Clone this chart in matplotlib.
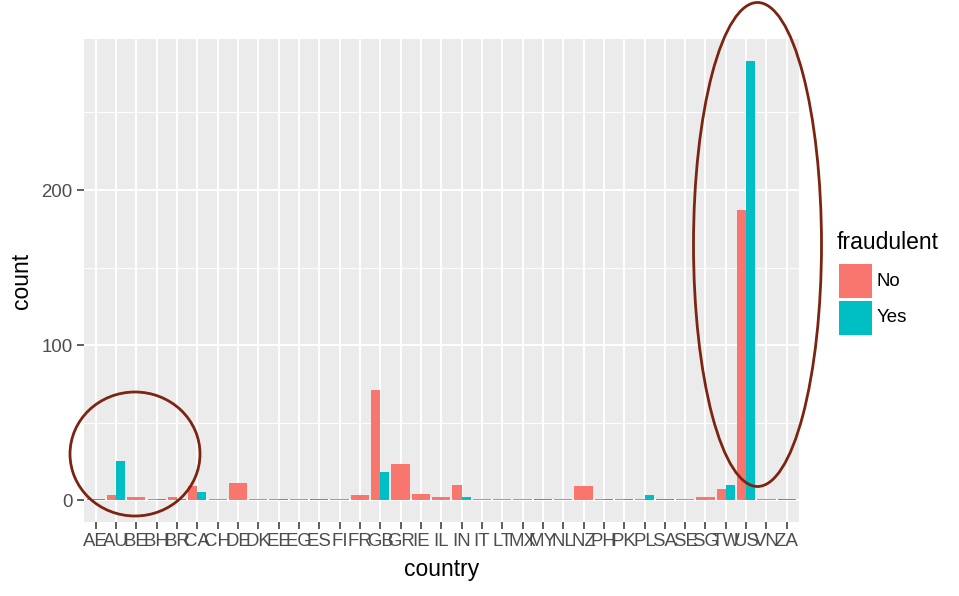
import numpy as np
import matplotlib
matplotlib.use('Agg')
import matplotlib.pyplot as plt
from matplotlib.patches import Rectangle, Ellipse

plt.rcParams['font.family'] = ['Liberation Sans', 'DejaVu Sans']

# counts per country, split by the "fraudulent" flag
countries = ['AE', 'AU', 'BE', 'BH', 'BR', 'CA', 'CH', 'DE', 'DK', 'EE', 'EG', 'ES',
             'FI', 'FR', 'GB', 'GR', 'IE', 'IL', 'IN', 'IT', 'LT', 'MX', 'MY', 'NL',
             'NZ', 'PH', 'PK', 'PL', 'SA', 'SE', 'SG', 'TW', 'US', 'VN', 'ZA']
count_no = [0, 3, 2, 1, 2, 9, 1, 11, 1, 1, 1, 0, 1, 3, 71, 23, 4, 2, 10, 1, 1, 1, 0, 1,
            9, 1, 1, 1, 0, 1, 2, 7, 187, 1, 0]
count_yes = [1, 25, 0, 1, 1, 5, 0, 0, 0, 1, 0, 1, 0, 0, 18, 0, 0, 0, 2, 0, 0, 0, 1, 0,
             0, 1, 1, 3, 1, 0, 0, 10, 283, 0, 1]
groups = ['No', 'Yes']
colors = ['#F8766D', '#00BFC4']

W, H = 959, 596
fig = plt.figure(figsize=(W / 100, H / 100), dpi=100)
ax = fig.add_axes([83.5 / W, 1 - 522 / H, (799 - 83.5) / W, (522 - 39.4) / H])
ax.set_facecolor('#EBEBEB')

# ggplot-style dodged bars (full width when only one group present)
x = np.arange(len(countries))
for i in x:
    vals = [count_no[i], count_yes[i]]
    present = [k for k in range(2) if vals[k] > 0]
    if len(present) == 1:
        k = present[0]
        ax.bar(i, vals[k], width=0.9, color=colors[k], zorder=3)
    else:
        ax.bar(i - 0.225, vals[0], width=0.45, color=colors[0], zorder=3)
        ax.bar(i + 0.225, vals[1], width=0.45, color=colors[1], zorder=3)

ymax = max(max(count_no), max(count_yes))
ax.set_ylim(-0.05 * ymax, 1.05 * ymax)
ax.set_xlim(-0.6, len(countries) - 0.4)

ax.set_yticks([0, 100, 200])
ax.set_yticks([50, 150, 250], minor=True)
ax.set_xticks(x)
ax.set_xticklabels(countries)
ax.grid(which='major', color='white', linewidth=1.4, zorder=0)
ax.grid(which='minor', axis='y', color='white', linewidth=0.7, zorder=0)
ax.set_axisbelow(True)
for s in ax.spines.values():
    s.set_visible(False)
ax.tick_params(which='major', length=5, width=1.1, color='#333333',
               labelcolor='#4D4D4D', labelsize=13.4, pad=3)
ax.tick_params(which='minor', length=0)

ax.set_xlabel('country', fontsize=16.5, labelpad=6)
ax.set_ylabel('count', fontsize=16.5, labelpad=6)

# legend, drawn by hand to mimic ggplot
fig.text(837 / W, 1 - 243 / H, 'fraudulent', fontsize=16.5, va='center', ha='left')
key_tops = [264, 301]
for k, g in enumerate(groups):
    top = key_tops[k]
    fig.add_artist(Rectangle((839 / W, 1 - (top + 34) / H), 33 / W, 34 / H,
                             transform=fig.transFigure, facecolor=colors[k],
                             edgecolor='none'))
    fig.text(877 / W, 1 - (top + 17) / H, g, fontsize=13.4, va='center', ha='left')

# hand-drawn highlight ellipses
ring = '#7B2410'
fig.add_artist(Ellipse((135 / W, 1 - 454 / H), 130 / W, 124 / H,
                       transform=fig.transFigure, fill=False, edgecolor=ring,
                       linewidth=2.0, zorder=10))
fig.add_artist(Ellipse((757.5 / W, 1 - 244.5 / H), 128 / W, 484 / H,
                       transform=fig.transFigure, fill=False, edgecolor=ring,
                       linewidth=2.0, zorder=10))

fig.savefig('out.png', dpi=100)
